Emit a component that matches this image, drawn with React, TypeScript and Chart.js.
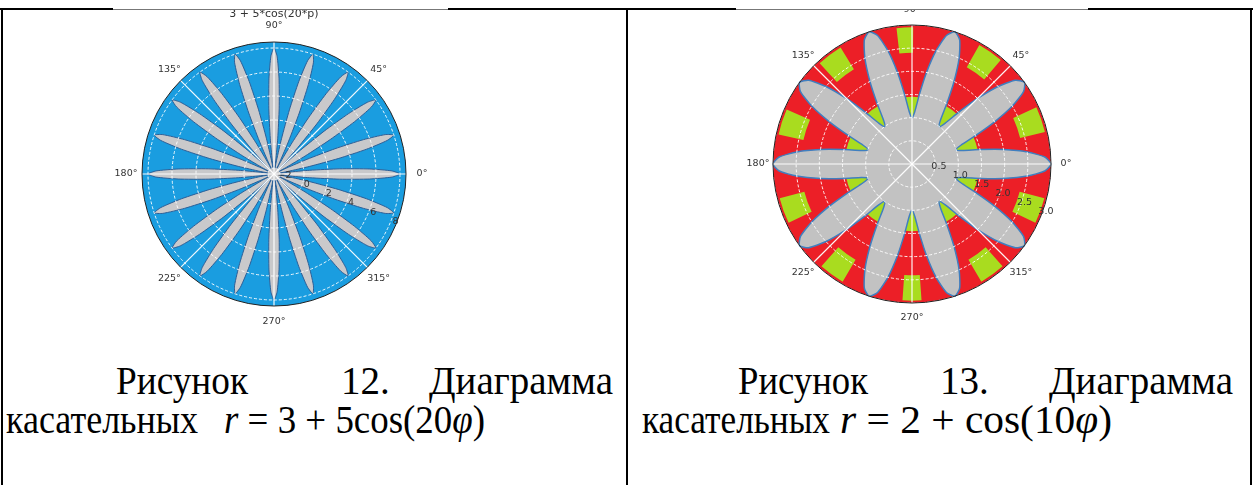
import React, { useEffect, useLayoutEffect, useRef } from "react";
import { Chart, registerables } from "chart.js";

Chart.register(...registerables);

// ---------------- data ----------------
// Left chart: r = 3 + 5cos(20φ) — 20 identical petals, one petal profile sampled every 1.5°
const LEFT_TITLE = "3 + 5*cos(20*p)";
const LEFT_PETALS = 20;
const LEFT_STEP_DEG = 1.5;
const LEFT_PETAL_PROFILE = [8, 7.33, 5.5, 3, 0.5, -1.33, -2, -1.33, 0.5, 3, 5.5, 7.33];
const LEFT_R_MIN = -2.5;
const LEFT_R_MAX = 8.5;
const LEFT_R_TICKS = [-2, 0, 2, 4, 6, 8];

// Right chart: r = 2 + cos(10φ) — 10 identical petals, one petal profile sampled every 3°
const RIGHT_PETALS = 10;
const RIGHT_STEP_DEG = 3;
const RIGHT_PETAL_PROFILE = [3, 2.87, 2.5, 2, 1.5, 1.13, 1, 1.13, 1.5, 2, 2.5, 2.87];
const RIGHT_R_MIN = 0;
const RIGHT_R_MAX = 3;
const RIGHT_R_TICKS = [0.5, 1.0, 1.5, 2.0, 2.5, 3.0];
// green patches (angle centre in degrees, angular width, radial range)
const GREEN_OUTER_ANGLES = [19, 55, 93, 127, 162, 200, 234, 270, 306, 340];
const GREEN_OUTER_WIDTHS = [11, 11, 7, 11, 11, 11, 11, 8, 11, 11];
const GREEN_OUTER_RANGE = [2.4, 2.95];
const GREEN_INNER_ANGLES = [18, 54, 90, 126, 162, 198, 234, 270, 306, 342];
const GREEN_INNER_WIDTHS = [13, 13, 13, 13, 13, 13, 13, 13, 13, 13];
const GREEN_INNER_RANGE = [0.9, 1.45];

const ANGLE_TICKS = [0, 45, 90, 135, 180, 225, 270, 315];

// ---------------- helpers ----------------
function buildSeries(petals: number, step: number, profile: number[]) {
  const labels: number[] = [];
  const values: number[] = [];
  const n = petals * profile.length;
  for (let i = 0; i < n; i++) {
    labels.push(((360 - i * step) % 360 + 360) % 360);
    values.push(profile[i % profile.length]);
  }
  return { labels, values };
}

function polarPx(scale: any, thetaDeg: number, value: number) {
  const d = scale.getDistanceFromCenterForValue(value);
  const a = (-thetaDeg * Math.PI) / 180;
  return { x: scale.xCenter + Math.cos(a) * d, y: scale.yCenter + Math.sin(a) * d };
}

type PolarCfg = {
  labels: number[];
  values: number[];
  min: number;
  max: number;
  step: number;
  rTicks: number[];
  tickFmt: (v: number) => string;
  tickOffset: [number, number];
  bg: string;
  petalFill: string;
  petalLine: string;
  petalWidth: number;
  padding: { left: number; right: number; top: number; bottom: number };
  labelGap: number;
  title?: string;
  titleY?: number;
  sectors?: { angles: number[]; widths: number[]; range: number[]; color: string }[];
};

function makeChart(canvas: HTMLCanvasElement, cfg: PolarCfg) {
  const bgPlugin = {
    id: "polarBg",
    beforeDatasetsDraw(chart: any) {
      const s = chart.scales.r;
      const ctx = chart.ctx;
      ctx.save();
      ctx.beginPath();
      ctx.arc(s.xCenter, s.yCenter, s.drawingArea, 0, Math.PI * 2);
      ctx.fillStyle = cfg.bg;
      ctx.fill();
      (cfg.sectors || []).forEach((sec) => {
        sec.angles.forEach((ang, i) => {
          const w = sec.widths[i];
          const dIn = s.getDistanceFromCenterForValue(sec.range[0]);
          const dOut = s.getDistanceFromCenterForValue(sec.range[1]);
          const a1 = (-(ang + w / 2) * Math.PI) / 180;
          const a2 = (-(ang - w / 2) * Math.PI) / 180;
          ctx.beginPath();
          ctx.arc(s.xCenter, s.yCenter, dOut, a1, a2, false);
          ctx.arc(s.xCenter, s.yCenter, dIn, a2, a1, true);
          ctx.closePath();
          ctx.fillStyle = sec.color;
          ctx.fill();
        });
      });
      ctx.restore();
    },
    afterDraw(chart: any) {
      const s = chart.scales.r;
      const ctx = chart.ctx;
      ctx.save();
      ctx.beginPath();
      ctx.arc(s.xCenter, s.yCenter, s.drawingArea, 0, Math.PI * 2);
      ctx.strokeStyle = "#222";
      ctx.lineWidth = 1;
      ctx.stroke();
      ctx.fillStyle = "#333";
      ctx.font = "9.5px 'DejaVu Sans'";
      ctx.textAlign = "center";
      ctx.textBaseline = "middle";
      ANGLE_TICKS.forEach((a) => {
        const rad = (-a * Math.PI) / 180;
        const d = s.drawingArea + cfg.labelGap;
        ctx.fillText(a + "°", s.xCenter + Math.cos(rad) * d, s.yCenter + Math.sin(rad) * d);
      });
      cfg.rTicks.forEach((v) => {
        const p = polarPx(s, -22.5, v);
        ctx.fillText(cfg.tickFmt(v), p.x + cfg.tickOffset[0], p.y + cfg.tickOffset[1]);
      });
      if (cfg.title) {
        ctx.font = "11px 'DejaVu Sans'";
        ctx.fillText(cfg.title, s.xCenter, cfg.titleY || 0);
      }
      ctx.restore();
    },
  };

  return new Chart(canvas, {
    type: "radar",
    data: {
      labels: cfg.labels,
      datasets: [
        {
          data: cfg.values,
          fill: "start",
          backgroundColor: cfg.petalFill,
          borderColor: cfg.petalLine,
          borderWidth: cfg.petalWidth,
          pointRadius: 0,
          tension: 0.2,
        },
      ],
    },
    options: {
      responsive: false,
      animation: false,
      layout: { padding: cfg.padding },
      plugins: { legend: { display: false }, tooltip: { enabled: false }, title: { display: false } },
      scales: {
        r: {
          min: cfg.min,
          max: cfg.max,
          startAngle: 90,
          ticks: { display: false, stepSize: cfg.step, includeBounds: false },
          pointLabels: { display: false },
          grid: {
            circular: true,
            z: 1,
            color: "rgba(255,255,255,0.9)",
            lineWidth: 1,
          },
          border: { dash: [3, 2] },
          angleLines: {
            display: true,
            color: "rgba(255,255,255,0.95)",
            lineWidth: (c: any) => (cfg.labels[c.index] % 45 === 0 ? 1.2 : 0),
          },
        },
      },
    } as any,
    plugins: [bgPlugin],
  });
}

function PolarCanvas({ cfg, style, w, h }: { cfg: PolarCfg; style: React.CSSProperties; w: number; h: number }) {
  const ref = useRef<HTMLCanvasElement>(null);
  useEffect(() => {
    const chart = makeChart(ref.current as HTMLCanvasElement, cfg);
    return () => chart.destroy();
  }, []);
  return <canvas ref={ref} width={w} height={h} style={{ position: "absolute", width: w, height: h, ...style }} />;
}

const leftSeries = buildSeries(LEFT_PETALS, LEFT_STEP_DEG, LEFT_PETAL_PROFILE);
const rightSeries = buildSeries(RIGHT_PETALS, RIGHT_STEP_DEG, RIGHT_PETAL_PROFILE);

const leftCfg: PolarCfg = {
  labels: leftSeries.labels,
  values: leftSeries.values,
  min: LEFT_R_MIN,
  max: LEFT_R_MAX,
  step: 2,
  rTicks: LEFT_R_TICKS,
  tickFmt: (v) => (v < 0 ? "−" + Math.abs(v) : String(v)),
  tickOffset: [5, -1],
  bg: "#1a9de0",
  petalFill: "#c9c9cb",
  petalLine: "#2b5f98",
  petalWidth: 1,
  padding: { left: 42, right: 44, top: 33, bottom: 33 },
  labelGap: 16,
  title: LEFT_TITLE,
  titleY: 5,
};

const rightCfg: PolarCfg = {
  labels: rightSeries.labels,
  values: rightSeries.values,
  min: RIGHT_R_MIN,
  max: RIGHT_R_MAX,
  step: 0.5,
  rTicks: RIGHT_R_TICKS,
  tickFmt: (v) => v.toFixed(1),
  tickOffset: [5.5, -6],
  bg: "#ec1f27",
  petalFill: "#c2c2c2",
  petalLine: "#3f7fc0",
  petalWidth: 1.5,
  padding: { left: 33, right: 39, top: 16, bottom: 31 },
  labelGap: 15,
  sectors: [
    { angles: GREEN_OUTER_ANGLES, widths: GREEN_OUTER_WIDTHS, range: GREEN_OUTER_RANGE, color: "#a9dc1f" },
    { angles: GREEN_INNER_ANGLES, widths: GREEN_INNER_WIDTHS, range: GREEN_INNER_RANGE, color: "#a9dc1f" },
  ],
};

const serif = "'Liberation Serif', 'Times New Roman', serif";

// text block, optionally stretched horizontally to a given width
function Fit(props: { x?: number; right?: number; y: number; w?: number; size: number; children: React.ReactNode }) {
  const ref = useRef<HTMLSpanElement>(null);
  useLayoutEffect(() => {
    const el = ref.current;
    if (!el || !props.w) return;
    el.style.transform = "none";
    const nat = el.getBoundingClientRect().width;
    if (nat > 0) el.style.transform = `scaleX(${props.w / nat})`;
  }, []);
  const pos: React.CSSProperties = props.right !== undefined ? { right: props.right } : { left: props.x };
  return (
    <span
      ref={ref}
      style={{
        position: "absolute",
        ...pos,
        top: props.y,
        fontFamily: serif,
        fontSize: props.size,
        lineHeight: "1",
        whiteSpace: "nowrap",
        color: "#000",
        transformOrigin: props.right !== undefined ? "100% 0" : "0 0",
      }}
    >
      {props.children}
    </span>
  );
}

function Line(props: { x: number; y: number; w: number; h: number; c?: string }) {
  return (
    <div
      style={{
        position: "absolute",
        left: props.x,
        top: props.y,
        width: props.w,
        height: props.h,
        background: props.c || "#000",
      }}
    />
  );
}

const L1_TOP = 361;
const L2_TOP = 400;
const FS = 39;

export default function App() {
  return (
    <div
      style={{
        position: "absolute",
        left: 0,
        top: 0,
        width: 1257,
        height: 485,
        background: "#fff",
        overflow: "hidden",
      }}
    >
      <PolarCanvas cfg={leftCfg} w={350} h={330} style={{ left: 100, top: 9 }} />
      <PolarCanvas cfg={rightCfg} w={350} h={325} style={{ left: 740, top: 9 }} />

      {/* table borders */}
      <Line x={0} y={8} w={113} h={2} />
      <Line x={113} y={9} w={335} h={1} c="#777" />
      <Line x={448} y={8} w={288} h={2} />
      <Line x={736} y={9} w={352} h={1} c="#777" />
      <Line x={1088} y={8} w={165} h={2} />
      <Line x={1} y={8} w={2} h={477} />
      <Line x={626} y={8} w={2} h={477} />
      <Line x={1250} y={8} w={2} h={477} />

      {/* captions, left cell */}
      <Fit x={116} y={L1_TOP} w={132} size={FS}>Рисунок</Fit>
      <Fit x={341} y={L1_TOP} size={FS}>12.</Fit>
      <Fit right={1257 - 613} y={L1_TOP} size={FS}>Диаграмма</Fit>
      <Fit x={6} y={L2_TOP} w={192} size={FS}>касательных</Fit>
      <Fit x={224} y={L2_TOP} w={261} size={FS}>
        <i>r</i> = 3 + 5cos(20<i>φ</i>)
      </Fit>

      {/* captions, right cell */}
      <Fit x={738} y={L1_TOP} w={130} size={FS}>Рисунок</Fit>
      <Fit x={940} y={L1_TOP} size={FS}>13.</Fit>
      <Fit right={1257 - 1233} y={L1_TOP} size={FS}>Диаграмма</Fit>
      <Fit x={642} y={L2_TOP} w={188} size={FS}>касательных</Fit>
      <Fit x={840} y={L2_TOP} w={272} size={FS}>
        <i>r</i> = 2 + cos(10<i>φ</i>)
      </Fit>
    </div>
  );
}
